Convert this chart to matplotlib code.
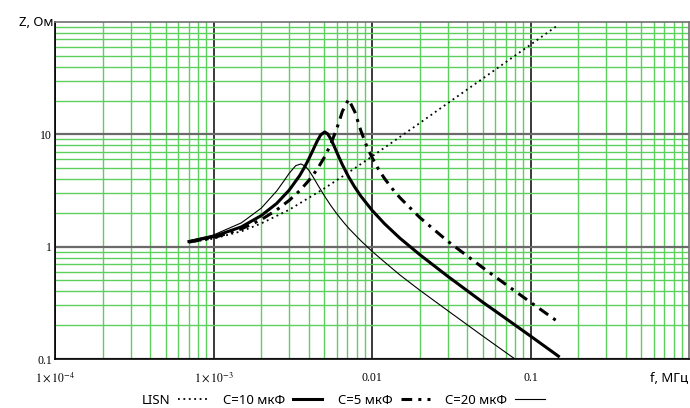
import matplotlib
matplotlib.use("Agg")
import matplotlib.pyplot as plt
from matplotlib.ticker import FixedLocator, FixedFormatter, LogLocator, NullFormatter

plt.rcParams['font.family'] = ['Noto Sans', 'DejaVu Sans']
plt.rcParams['mathtext.fontset'] = 'stix'

# frequencies in MHz, impedance in Ohm
lisn_f = [0.0007, 0.001, 0.0015, 0.002, 0.003, 0.005, 0.007, 0.01, 0.015, 0.02,
          0.03, 0.05, 0.07, 0.1, 0.15]
lisn_z = [1.09, 1.18, 1.37, 1.61, 2.13, 3.30, 4.51, 6.36, 9.48, 12.6,
          18.9, 31.4, 44.0, 62.8, 94.3]

c10_f = [0.0007, 0.001, 0.0015, 0.002, 0.0025, 0.003, 0.0035, 0.00375, 0.004, 0.00425,
         0.0045, 0.00475, 0.00503, 0.00525, 0.0055, 0.00575, 0.006, 0.0065, 0.00712, 0.00775,
         0.0085, 0.01, 0.012, 0.015, 0.02, 0.03, 0.05, 0.07, 0.1, 0.15]
c10_z = [1.11, 1.23, 1.50, 1.89, 2.42, 3.18, 4.30, 5.09, 6.07, 7.28,
         8.65, 9.90, 10.5, 10.1, 9.08, 7.93, 6.90, 5.37, 4.18, 3.42,
         2.82, 2.11, 1.60, 1.19, 0.85, 0.546, 0.32, 0.229, 0.16, 0.106]

c5_f = [0.0007, 0.001, 0.0015, 0.002, 0.0025, 0.003, 0.0035, 0.004, 0.0045, 0.00503,
        0.0055, 0.006, 0.00625, 0.0065, 0.00712, 0.0078, 0.0085, 0.0092, 0.01, 0.011,
        0.012, 0.0135, 0.015, 0.02, 0.03, 0.05, 0.07, 0.1, 0.15]
c5_z = [1.10, 1.20, 1.44, 1.74, 2.12, 2.58, 3.15, 3.89, 4.86, 6.31,
        8.21, 11.3, 13.4, 16.0, 20.5, 15.8, 10.8, 8.03, 6.22, 4.88,
        4.04, 3.25, 2.73, 1.82, 1.12, 0.65, 0.46, 0.32, 0.213]

c20_f = [0.0007, 0.001, 0.0015, 0.002, 0.0025, 0.00275, 0.003, 0.0033, 0.00356, 0.0038,
         0.004, 0.0042, 0.0046, 0.00503, 0.0055, 0.006, 0.0065, 0.00712, 0.0085, 0.01,
         0.012, 0.015, 0.02, 0.03, 0.05, 0.08]
c20_z = [1.13, 1.27, 1.63, 2.20, 3.12, 3.76, 4.49, 5.26, 5.45, 5.20,
         4.77, 4.29, 3.45, 2.81, 2.32, 1.96, 1.70, 1.46, 1.13, 0.91,
         0.73, 0.56, 0.41, 0.27, 0.16, 0.0997]

x_ticks = [1e-4, 1e-3, 0.01, 0.1]
x_labels = [r'$1\times10^{-4}$', r'$1\times10^{-3}$', '0.01', '0.1']
y_ticks = [0.1, 1, 10]
y_labels = ['0.1', '1', '10']

fig = plt.figure(figsize=(6.9, 4.08), dpi=100)
ax = fig.add_axes([55/690, 1-359/408, 634/690, 337/408])

ax.set_xscale('log')
ax.set_yscale('log')
ax.set_xlim(1e-4, 1)
ax.set_ylim(0.1, 100)

l1, = ax.plot(lisn_f, lisn_z, color='black', lw=1.3, linestyle=(0, (1, 2)))
l2, = ax.plot(c10_f, c10_z, color='black', lw=2.2)
l3, = ax.plot(c5_f, c5_z, color='black', lw=2.2, linestyle=(0, (3.5, 2, 1, 2)))
l4, = ax.plot(c20_f, c20_z, color='black', lw=0.8)

ax.xaxis.set_major_locator(FixedLocator(x_ticks))
ax.xaxis.set_major_formatter(FixedFormatter(x_labels))
ax.yaxis.set_major_locator(FixedLocator(y_ticks))
ax.yaxis.set_major_formatter(FixedFormatter(y_labels))
ax.xaxis.set_minor_locator(LogLocator(base=10, subs=range(2, 10), numticks=20))
ax.yaxis.set_minor_locator(LogLocator(base=10, subs=range(2, 10), numticks=20))
ax.xaxis.set_minor_formatter(NullFormatter())
ax.yaxis.set_minor_formatter(NullFormatter())

ax.set_axisbelow(True)
ax.grid(which='minor', color='#5cd05c', lw=1.0)
ax.xaxis.grid(which='major', color='#2a2a2a', lw=1.3)
ax.yaxis.grid(which='major', color='#6a6a6a', lw=1.6)

ax.tick_params(which='both', length=0)
ax.tick_params(axis='x', pad=16, labelsize=8.5, labelfontfamily='Liberation Serif')
ax.tick_params(axis='y', pad=2, labelsize=8.5, labelfontfamily='Liberation Serif')
plt.setp(ax.get_xticklabels(), va='baseline')

for s in ['left', 'bottom']:
    ax.spines[s].set_color('black')
    ax.spines[s].set_linewidth(1.2)
for s in ['top', 'right']:
    ax.spines[s].set_color('#707070')
    ax.spines[s].set_linewidth(1.2)

fig.text(53/690, 1-22/408, 'Z, Ом', ha='right', va='center', fontsize=9.5)
fig.text(688/690, 1-378/408, 'f, МГц', ha='right', va='center', fontsize=9.5)

fig.legend([l1, l2, l3, l4], ['LISN', 'C=10 мкФ', 'C=5 мкФ', 'C=20 мкФ'],
           loc='center', bbox_to_anchor=(343/690, 1-400/408), ncol=4,
           frameon=False, markerfirst=False, fontsize=9.5, handlelength=2.2,
           handletextpad=0.6, columnspacing=1.2, borderpad=0)

fig.savefig('out.png', dpi=100)
